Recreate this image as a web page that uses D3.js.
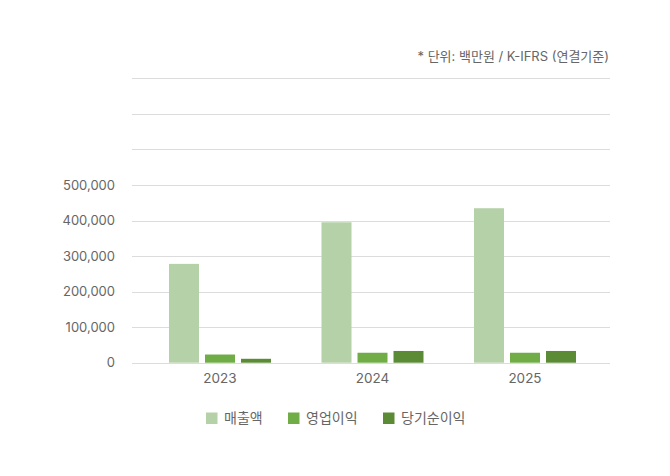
<!DOCTYPE html>
<html><head><meta charset="utf-8">
<script src="https://cdn.jsdelivr.net/npm/d3@7"></script>
<style>
html,body{margin:0;padding:0;background:#fff;}
svg{display:block;font-family:Inter,"Noto Sans CJK KR",sans-serif;}
</style></head><body>
<svg id="c" width="670" height="476"></svg>
<script>
const years = ["2023", "2024", "2025"];
const seriesNames = ["매출액", "영업이익", "당기순이익"];
const revenue = [278000, 395000, 434500];
const operatingProfit = [23000, 28000, 28000];
const netIncome = [11000, 33000, 33000];
const yTickValues = [0, 100000, 200000, 300000, 400000, 500000];
const gridValues = [0, 100000, 200000, 300000, 400000, 500000, 600000, 700000, 800000];
const colors = ["#b5d1a7", "#70ad47", "#5b8b35"];
const note = "* 단위: 백만원 / K-IFRS (연결기준)";

const seriesValues = [revenue, operatingProfit, netIncome];
const svg = d3.select("#c");

const y = d3.scaleLinear().domain([0, 800000]).range([362.7, 78.3]);
const x0 = d3.scaleBand().domain(years).range([143.75, 601.25]);
const x1 = d3.scaleBand().domain(seriesNames).range([-51, 51]).paddingInner(6/36).paddingOuter(0);

// grid
svg.append("g").selectAll("line").data(gridValues).join("line")
  .attr("x1", 132).attr("x2", 610)
  .attr("y1", d => Math.round(y(d)) + 0.5).attr("y2", d => Math.round(y(d)) + 0.5)
  .attr("stroke", "#dcdcdc").attr("stroke-width", 1);

// y labels
svg.append("g").selectAll("text").data(yTickValues).join("text")
  .attr("x", 115).attr("y", d => y(d)).attr("dy", "0.35em")
  .attr("text-anchor", "end").attr("font-size", 13).attr("fill", "#666")
  .text(d => d3.format(",")(d));

// bars
const groups = svg.append("g").selectAll("g").data(years).join("g")
  .attr("transform", d => `translate(${x0(d) + x0.bandwidth()/2},0)`);
groups.selectAll("rect").data((d, i) => seriesNames.map((s, j) => ({s, j, v: seriesValues[j][i]}))).join("rect")
  .attr("x", d => x1(d.s)).attr("width", x1.bandwidth())
  .attr("y", d => y(d.v)).attr("height", d => y(0) - y(d.v))
  .attr("fill", d => colors[d.j]);

// x labels
svg.append("g").selectAll("text").data(years).join("text")
  .attr("x", d => x0(d) + x0.bandwidth()/2).attr("y", 383)
  .attr("text-anchor", "middle").attr("font-size", 13.5).attr("fill", "#666")
  .text(d => d);

// note
svg.append("text").attr("x", 609).attr("y", 61).attr("text-anchor", "end")
  .attr("font-size", 13).attr("fill", "#666").text(note);

// legend
const legX = [206, 288, 383];
const leg = svg.append("g").selectAll("g").data(seriesNames).join("g")
  .attr("transform", (d, i) => `translate(${legX[i]},412.5)`);
leg.append("rect").attr("width", 11.5).attr("height", 11.5).attr("fill", (d, i) => colors[i]);
leg.append("text").attr("x", 18).attr("y", 6).attr("dy", "0.35em")
  .attr("font-size", 14).attr("fill", "#666").text(d => d);
</script>
</body></html>
